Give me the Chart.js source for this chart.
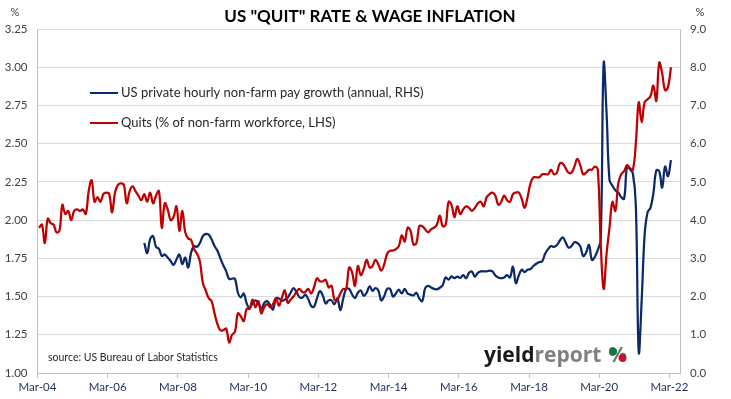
<!DOCTYPE html>
<html>
<head>
<meta charset="utf-8">
<script src="https://cdn.jsdelivr.net/npm/chart.js@4.4.1/dist/chart.umd.min.js"></script>
<style>
  html, body { margin: 0; padding: 0; background: #fff; }
  #wrap { position: relative; width: 731px; height: 399px; }
</style>
</head>
<body>
<div id="wrap"><canvas id="quitChart"></canvas></div>
<script>
// monthly, first value = Mar-04
const quits = [
  1.95, 1.97, 1.85, 2.01, 1.98, 1.97, 1.92, 1.93, 2.10, 2.04,
  2.06, 2.00, 2.06, 2.07, 2.06, 2.07, 2.04, 2.19, 2.26, 2.12,
  2.15, 2.12, 2.17, 2.18, 2.17, 2.05, 2.18, 2.23, 2.24, 2.23,
  2.11, 2.19, 2.22, 2.19, 2.16, 2.13, 2.17, 2.12, 2.18, 2.11,
  2.16, 2.19, 1.95, 2.11, 2.07, 2.00, 2.02, 2.09, 1.93, 2.06,
  1.92, 1.88, 1.87, 1.81, 1.78, 1.73, 1.59, 1.54, 1.49, 1.47,
  1.39, 1.32, 1.28, 1.28, 1.29, 1.20, 1.25, 1.27, 1.39, 1.37,
  1.34, 1.42, 1.42, 1.48, 1.43, 1.47, 1.39, 1.43, 1.45, 1.43,
  1.45, 1.49, 1.44, 1.49, 1.54, 1.46, 1.48, 1.50, 1.53, 1.55,
  1.53, 1.53, 1.55, 1.52, 1.56, 1.62, 1.60, 1.60, 1.61, 1.56,
  1.57, 1.48, 1.48, 1.52, 1.55, 1.55, 1.69, 1.66, 1.57, 1.70,
  1.64, 1.68, 1.74, 1.69, 1.70, 1.74, 1.71, 1.67, 1.71, 1.78,
  1.80, 1.80, 1.81, 1.83, 1.90, 1.86, 1.95, 1.93, 1.84, 1.85,
  1.96, 1.96, 1.94, 1.92, 1.94, 1.95, 1.97, 2.03, 1.96, 1.97,
  2.12, 2.10, 2.02, 2.09, 2.04, 2.07, 2.09, 2.08, 2.06, 2.08,
  2.11, 2.12, 2.09, 2.15, 2.17, 2.18, 2.16, 2.10, 2.12, 2.16,
  2.13, 2.12, 2.17, 2.18, 2.18, 2.14, 2.08, 2.15, 2.24, 2.28,
  2.28, 2.28, 2.30, 2.30, 2.30, 2.33, 2.30, 2.31, 2.37, 2.37,
  2.34, 2.31, 2.31, 2.35, 2.40, 2.36, 2.30, 2.31, 2.33, 2.33,
  2.35, 2.33, 1.85, 1.55, 1.78, 1.95, 2.12, 2.06, 2.24, 2.30,
  2.32, 2.36, 2.34, 2.33, 2.50, 2.77, 2.64, 2.77, 2.79, 2.81,
  2.88, 2.78, 3.03, 2.96, 2.85, 2.87, 3.00
];

// monthly annual growth, first value = Mar-07
const wageStart = 36;
const wages = [
  3.40, 3.14, 3.50, 3.58,
  3.30, 3.25, 3.06, 3.10, 3.02, 2.93, 2.83, 2.97, 3.10, 2.85,
  3.02, 2.76, 3.15, 3.32, 3.30, 3.40, 3.58, 3.64, 3.62, 3.50,
  3.32, 3.20, 3.00, 2.82, 2.66, 2.46, 2.47, 2.46, 2.10, 1.98,
  2.08, 1.82, 1.70, 1.83, 1.90, 1.83, 1.68, 1.83, 1.88, 1.78,
  1.66, 1.95, 1.95, 1.89, 1.92, 1.97, 2.10, 2.22, 2.12, 1.99,
  1.97, 2.05, 1.94, 1.76, 1.73, 1.95, 2.14, 2.03, 1.82, 1.90,
  1.90, 1.80, 1.95, 1.64, 1.95, 2.20, 2.20, 2.06, 1.96, 2.10,
  2.16, 2.02, 2.10, 2.27, 2.15, 2.22, 2.16, 1.90, 2.01, 2.20,
  2.20, 2.00, 2.08, 2.18, 2.08, 2.20, 2.08, 2.05, 2.03, 2.10,
  1.95, 1.88, 2.22, 2.28, 2.24, 2.20, 2.19, 2.23, 2.30, 2.50,
  2.44, 2.53, 2.48, 2.52, 2.49, 2.56, 2.48, 2.62, 2.65, 2.52,
  2.62, 2.66, 2.66, 2.66, 2.68, 2.66, 2.55, 2.50, 2.48, 2.50,
  2.56, 2.50, 2.78, 2.35, 2.55, 2.70, 2.64, 2.70, 2.72, 2.80,
  2.86, 2.90, 2.92, 3.12, 3.24, 3.32, 3.30, 3.34, 3.46, 3.55,
  3.42, 3.28, 3.32, 3.42, 3.40, 3.32, 3.06, 3.15, 3.35, 2.96,
  3.04, 3.22, 3.50, 8.10, 6.80, 5.05, 4.90, 4.78, 4.72, 4.60,
  4.56, 5.40, 5.33, 5.22, 4.40, 0.55, 1.90, 3.60, 4.20, 4.32,
  4.70, 5.30, 5.28, 4.85, 5.40, 5.15, 5.57
];

const xTickLabels = ['Mar-04', 'Mar-06', 'Mar-08', 'Mar-10', 'Mar-12',
                     'Mar-14', 'Mar-16', 'Mar-18', 'Mar-20', 'Mar-22'];
const monthsPerTick = 24;

const seriesNames = ['US private hourly non-farm pay growth (annual, RHS)',
                     'Quits (% of non-farm workforce, LHS)'];
const BLUE = '#0b2a6b';
const RED  = '#c00000';
const FONT = 'Lato, "Open Sans", sans-serif';

/* ── extra text: title, axis units, legend, source, logo ── */
const decorations = {
    id: 'decorations',
    afterDraw(chart) {
        const ctx = chart.ctx;
        ctx.save();
        ctx.textBaseline = 'middle';

        ctx.fillStyle = '#000';
        ctx.textAlign = 'center';
        ctx.font = `bold 17px ${FONT}`;
        ctx.fillText('US "QUIT" RATE & WAGE INFLATION', 370, 17);

        ctx.fillStyle = '#404040';
        ctx.font = `11px ${FONT}`;
        ctx.fillText('%', 15, 12);
        ctx.fillText('%', 700, 12);

        // legend, drawn inside the plot
        ctx.textAlign = 'left';
        ctx.font = `13px ${FONT}`;
        chart.data.datasets.forEach((ds, i) => {
            const y = 93 + i * 30;
            ctx.strokeStyle = ds.borderColor;
            ctx.lineWidth = 2;
            ctx.beginPath();
            ctx.moveTo(90, y);
            ctx.lineTo(118, y);
            ctx.stroke();
            ctx.fillStyle = '#262626';
            ctx.fillText(ds.label, 121, y);
        });

        ctx.font = `10.5px ${FONT}`;
        ctx.fillStyle = '#262626';
        ctx.fillText('source: US Bureau of Labor Statistics', 48, 358);

        // yieldreport %
        ctx.textBaseline = 'alphabetic';
        ctx.font = `bold 21px "Open Sans", sans-serif`;
        ctx.fillStyle = '#1a1a1a';
        ctx.fillText('yield', 484, 362);
        const w1 = ctx.measureText('yield').width;
        ctx.fillStyle = '#7f7f7f';
        ctx.fillText('report', 484 + w1, 362);
        const pctX = 484 + w1 + ctx.measureText('report').width + 7;
        const pctW = ctx.measureText('%').width;
        ctx.fillStyle = '#6f6f6f';
        ctx.fillText('%', pctX, 362);
        // colour the two dots of the percent sign
        ctx.fillStyle = '#0a7a3a';
        ctx.beginPath(); ctx.arc(pctX + pctW * 0.26, 351.5, 3.8, 0, Math.PI * 2); ctx.fill();
        ctx.fillStyle = '#c8102e';
        ctx.beginPath(); ctx.arc(pctX + pctW * 0.74, 358, 3.8, 0, Math.PI * 2); ctx.fill();

        ctx.restore();
    }
};

new Chart(document.getElementById('quitChart'), {
    type: 'line',
    data: {
        datasets: [
            {
                label: seriesNames[0],
                data: wages.map((v, i) => ({ x: wageStart + i + 0.5, y: v })),
                yAxisID: 'y1',
                borderColor: BLUE,
                borderWidth: 2.25,
                pointRadius: 0,
                tension: 0.4,
                order: 1,
            },
            {
                label: seriesNames[1],
                data: quits.map((v, i) => ({ x: i + 0.5, y: v })),
                yAxisID: 'y',
                borderColor: RED,
                borderWidth: 2.25,
                pointRadius: 0,
                tension: 0.4,
                order: 0,
            },
        ],
    },
    options: {
        responsive: true,
        maintainAspectRatio: false,
        animation: false,
        layout: { padding: { top: 29, left: 0, right: 0, bottom: 0 } },
        scales: {
            x: {
                type: 'linear',
                min: 0,
                max: 219.6,
                afterBuildTicks: s => { s.ticks = xTickLabels.map((_, i) => ({ value: i * monthsPerTick })); },
                afterFit: s => { s.height = 26; },
                ticks: {
                    autoSkip: false,
                    maxRotation: 0,
                    padding: 2,
                    color: '#1f2d5c',
                    font: { family: FONT, size: 11.5 },
                    callback: v => xTickLabels[Math.round(v / monthsPerTick)],
                },
                grid: { drawOnChartArea: false, drawTicks: true, tickLength: 5, color: '#bfbfbf' },
                border: { color: '#bfbfbf' },
            },
            y: {
                position: 'left',
                min: 1,
                max: 3.25,
                afterFit: s => { s.width = 37.5; },
                ticks: {
                    stepSize: 0.25,
                    padding: 10,
                    color: '#404040',
                    font: { family: FONT, size: 11.5 },
                    callback: v => v.toFixed(2),
                },
                grid: { color: '#d9d9d9', drawTicks: false },
                border: { color: '#bfbfbf' },
            },
            y1: {
                position: 'right',
                min: 0,
                max: 9,
                afterFit: s => { s.width = 51; },
                ticks: {
                    stepSize: 1,
                    padding: 10,
                    color: '#404040',
                    font: { family: FONT, size: 11.5 },
                    callback: v => v.toFixed(1),
                },
                grid: { drawOnChartArea: false, drawTicks: false },
                border: { color: '#bfbfbf' },
            },
        },
        plugins: {
            legend:  { display: false },
            tooltip: { enabled: false },
        },
    },
    plugins: [decorations],
});
</script>
</body>
</html>
